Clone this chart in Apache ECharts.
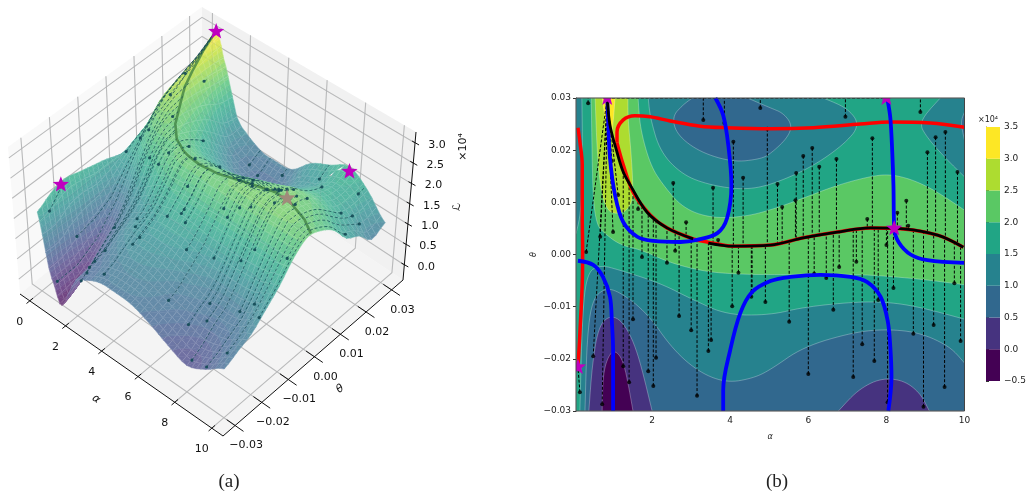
<!DOCTYPE html>
<html><head><meta charset="utf-8">
<style>html,body{margin:0;padding:0;background:#fff}#c{width:1030px;height:493px}</style>
<script src="https://cdn.jsdelivr.net/npm/echarts@6/dist/echarts.min.js"></script>
</head><body><div id="c"></div>
<script>
// ---------- loss surface values (x 10^4) ----------
const alphaGrid=[0.05,0.25,0.5,0.75,1,1.25,1.5,2,2.5,3,3.5,4,5,6,7,8,9,10];
const thetaGrid=[-0.03,-0.025,-0.02,-0.015,-0.01,-0.005,0,0.005,0.01,0.015,0.02,0.025,0.03];
const Lm30=[1.6,1.1,.33,-.02,-.38,-.3,0,.5,.65,.78,.85,.85,.82,.65,.42,.25,.45,.75];
const Lm25=[1.8,1.1,.35,-.03,-.3,-.15,.1,.55,.7,.85,.93,.98,.95,.78,.58,.42,.58,.9];
const Lm20=[1.9,1.3,.52,.05,-.1,.05,.35,.65,.9,1.05,1.15,1.2,1.1,.9,.8,.7,.78,1.05];
const Lm15=[1.8,1.35,.7,.25,.2,.38,.58,.88,1.12,1.27,1.32,1.37,1.34,1.18,1.0,.93,1.0,1.34];
const Lm10=[1.7,1.3,.85,.6,.55,.65,.85,1.1,1.25,1.4,1.52,1.6,1.6,1.48,1.42,1.42,1.48,1.65];
const Lm05=[1.6,1.4,1.15,1.03,1.03,1.15,1.3,1.45,1.65,1.8,1.88,1.93,1.93,1.95,1.95,1.95,1.98,2.05];
const L00=[1.45,1.55,1.55,1.6,1.7,1.8,1.9,2.0,2.15,2.25,2.3,2.3,2.33,2.38,2.4,2.42,2.38,2.3];
const L05=[1.35,1.7,1.9,2.05,2.2,2.3,2.33,2.3,2.25,2.2,2.15,2.15,2.2,2.3,2.4,2.45,2.35,2.2];
const L10=[1.3,1.75,2.05,2.48,2.65,2.6,2.5,2.25,2.05,1.85,1.75,1.73,1.8,2.02,2.2,2.35,2.2,1.95];
const L15=[1.3,1.75,2.1,2.65,2.8,2.7,2.5,2.1,1.75,1.45,1.32,1.27,1.28,1.55,1.85,2.02,1.9,1.5];
const L20=[1.25,1.7,2.15,2.8,2.9,2.75,2.45,1.85,1.35,1.08,.92,.85,.95,1.25,1.58,1.8,1.6,1.3];
const L25=[1.2,1.7,2.3,2.95,3.05,2.75,2.35,1.5,1.05,.85,.75,.7,.75,1.2,1.45,1.75,1.55,.95];
const L30=[1.2,1.6,2.3,3.2,3.2,2.7,2.3,1.4,1.15,1.0,.9,.9,.95,1.4,1.65,1.9,1.6,1.1];
const Lrows=[Lm30,Lm25,Lm20,Lm15,Lm10,Lm05,L00,L05,L10,L15,L20,L25,L30];

// ---------- filled contour regions in (alpha, theta) ----------
const levelColors=['#440154','#46337f','#31688e','#26828e','#21a585','#5ac864','#addc30','#fde725'];
const levelTicks=[-0.5,0,0.5,1,1.5,2,2.5,3,3.5];
const regionAll=[[.05,-.03],[10,-.03],[10,.03],[.05,.03]];
const regionBelow15=[[10,-.0124],[8.87,-.0101],[8.03,-.0091],[7.15,-.0091],[5.87,-.0101],[5.03,-.0116],[3.92,-.0116],[3.05,-.0087],[2.21,-.0055],[1.18,-.003],[.67,-.002],[.33,-.0035],[.21,-.012],[.15,-.03],[10,-.03]];
const regionBelow10=[[10,-.0208],[9.64,-.0177],[8.87,-.015],[8.03,-.0143],[7.15,-.0149],[5.87,-.0177],[5.03,-.0221],[4.59,-.0237],[3.92,-.0246],[3.23,-.0227],[2.54,-.0183],[1.87,-.0112],[1.18,-.0072],[.79,-.0064],[.46,-.0087],[.33,-.0164],[.28,-.03],[10,-.03]];
const regionBelow05a=[[.38,-.03],[.46,-.0216],[.62,-.0139],[.92,-.0116],[1.26,-.0129],[1.62,-.0183],[2,-.03]];
const regionBelow05b=[[6.77,-.03],[7.26,-.026],[7.85,-.0237],[8.44,-.0241],[8.87,-.0266],[9.1,-.03]];
const regionBelow00=[[.72,-.03],[.74,-.0227],[.92,-.0187],[1.13,-.0187],[1.31,-.0216],[1.51,-.03]];
const regionUpper15a=[[1.9,.03],[1.95,.0262],[2.21,.0196],[2.79,.0152],[3.49,.0133],[4.33,.0124],[5.03,.0133],[6.05,.0166],[6.9,.021],[7.33,.0248],[7,.0281],[6.38,.03]];
const regionUpper15b=[[9.38,.03],[8.82,.0254],[9.05,.0223],[9.56,.0181],[10,.0149],[10,.03]];
const regionUpper15c=[[.05,.03],[.2,.03],[.22,.02],[.18,.008],[.05,.004]];
const regionUpper10a=[[3.03,.03],[2.79,.0287],[2.51,.0264],[2.64,.0229],[3.23,.0196],[4.08,.0177],[4.77,.0183],[5.03,.0193],[5.46,.0223],[5.59,.0248],[5.36,.0271],[5.03,.0281],[4.44,.03]];
const regionUpper10b=[[10,.0273],[9.9,.0254],[10,.0219]];
const regionAbove20=[[.44,.03],[.46,.0196],[.49,.0101],[.59,.0057],[.74,.0043],[1.18,.0018],[1.72,.0009],[2.46,-.0016],[3.31,-.0032],[4,-.0037],[5.03,-.0039],[6.31,-.0037],[7.59,-.0039],[8.87,-.0047],[10,-.0058],[10,.0085],[9.31,.012],[8.69,.0143],[8.1,.0154],[7.59,.015],[6.74,.0133],[5.87,.0108],[5.03,.0085],[4.33,.0072],[3.49,.007],[2.79,.0089],[2.28,.0133],[1.95,.0172],[1.69,.0243],[1.64,.03]];
const regionAbove25=[[1.38,.03],[1.38,.0262],[1.46,.0196],[1.51,.0133],[1.49,.0101],[1.31,.0081],[1.05,.0078],[.85,.0085],[.69,.012],[.59,.0196],[.54,.03]];
const regionAbove30=[[.72,.03],[.82,.0248],[.92,.0216],[1,.0248],[1.05,.03]];

// ---------- critical curves ----------
const redLeft=[[.1,.0243],[.15,.0216],[.21,.0172],[.21,.007],[.22,.0009],[.21,-.0055],[.15,-.015],[.1,-.0216]];
const redUpper=[[10,.0244],[9.13,.0252],[8.1,.0254],[7.33,.025],[6.13,.0243],[5.03,.0241],[3.92,.0243],[3.23,.0246],[2.46,.0256],[1.95,.0264],[1.56,.0266],[1.26,.0258],[1.1,.0235],[1.1,.0214]];
const ridgeA=[[.85,.03],[.92,.0248],[1.1,.0196],[1.26,.0158],[1.44,.0133],[1.87,.0081],[2.38,.0051],[3.05,.003]];
const ridgeB=[[3.44,.0022],[4.08,.0016],[5.03,.0018],[5.87,.0032],[6.74,.0043],[7.59,.0051],[8.44,.0049],[9.31,.0037],[9.97,.0014]];
const redLower=[[1.1,.0214],[1.26,.0172],[1.51,.012],[1.95,.0076],[2.38,.0051],[3.05,.003],[3.41,.0024],[4.08,.0016],[5.03,.0018],[5.87,.0032],[6.74,.0043],[7.59,.0051],[8.44,.0049],[9.31,.0037],[9.97,.0014]];
const blueLoop=[[.85,.03],[.87,.0262],[.92,.0185],[1.05,.0114],[1.26,.0062],[1.62,.0034],[2.03,.0026],[2.72,.0024],[3.15,.0028],[3.67,.0041],[3.92,.007],[4.03,.0133],[3.95,.021],[3.82,.0267],[3.62,.03]];
const blueLowLeft=[[.1,-.0012],[.49,-.002],[.74,-.0043],[.92,-.0081],[.97,-.0131],[1,-.0183],[1,-.03]];
const blueLowMid=[[3.82,-.03],[3.82,-.026],[4,-.0183],[4.26,-.0112],[4.56,-.0072],[5.03,-.0051],[5.54,-.0043],[6.31,-.0039],[7.08,-.0043],[7.51,-.0053],[7.85,-.0081],[8.03,-.0126],[8.1,-.0177],[8.13,-.0235],[8.05,-.03]];
const blueRight=[[8.03,.0296],[8.1,.0262],[8.15,.0196],[8.18,.0133],[8.2,.0051],[8.31,.0024],[8.62,0],[9.05,-.0011],[10,-.0016]];
const edgeTrajectory=[[.85,.03],[8,.03]];

// ---------- critical points: alpha, theta, loss ----------
const maxima=[[.85,.03,3.27],[.1,-.0216,1.85],[8,.03,1.78]];
const saddle=[[8.2,.005,2.47]];

// ---------- trajectory start points ----------
const startsToTop=[[.36,.029],[3.31,.0258],[3.85,.0252],[4.77,.0281],[6.95,.0264],[8.87,.0273]];
const startsToPeak=[[1.13,.0114],[.97,.0179],[1,.0043],[.67,.0034],[.31,.0005],[.49,-.0195],[.72,-.0287]];
const startsToLowStar=[[.15,-.0264]];
const startsAbove=[[1.64,.0087],[4.08,.0216],[4.33,.0147],[2.54,.0137],[3.56,.0128],[4.95,.0241],[2.87,.0062],[3.69,.0028],[7.64,.0223],[9.26,.0225],[9.51,.0235],[9.05,.0196],[6.1,.0204],[5.87,.0189],[6.72,.0183],[6.28,.0168],[5.69,.0156],[9.82,.0158],[5.21,.0135],[5.33,.0091],[5.67,.0104],[8.51,.0103],[8.28,.008],[7.51,.0068],[8.56,.0055]];
const startsBelow=[[1.26,-.0214],[1.41,-.0245],[1.51,-.0124],[1.9,-.0224],[2.03,-.0252],[2.1,-.0198],[1.74,-.0005],[2.38,-.0016],[2.59,.0007],[2.69,-.0118],[3,-.0145],[3.15,-.0271],[3.44,-.0185],[3.51,-.0164],[4.05,-.0099],[4.21,-.0035],[4.56,-.0072],[4.54,-.0081],[4.9,-.0091],[5.51,-.0129],[6,-.0229],[6.15,-.0037],[6.46,-.0045],[6.64,-.0106],[6.79,-.0024],[7.15,-.0235],[7.23,-.0014],[7.38,-.0172],[7.69,-.0204],[7.79,-.0087],[8,.0018],[8.03,-.0283],[8.18,-.0064],[8.69,-.0152],[8.95,-.0292],[9.21,-.0135],[9.49,-.0254],[9.74,-.0055],[9.9,-.0166]];

// ---------- tick labels ----------
const alphaTicks3d=[0,2,4,6,8,10];
const thetaTicks3d=[-0.03,-0.02,-0.01,0,0.01,0.02,0.03];
const lossTicks3d=[0,0.5,1,1.5,2,2.5,3];
const alphaTicks2d=[2,4,6,8,10];

// ---------- helpers ----------
const minus=s=>String(s).replace('-','\u2212');
const FONT='"DejaVu Sans"';
function lookup(list,a){
  for(let i=0;i<list.length-1;i++){const p=list[i],q=list[i+1];
    if(a>=p[0]&&a<=q[0]) return p[1]+(q[1]-p[1])*(a-p[0])/((q[0]-p[0])||1);}
  return a<list[0][0]?list[0][1]:list[list.length-1][1];
}
const ridgeAll=redLower;
function idx(arr,v){let i=0;while(i<arr.length-2&&v>arr[i+1])i++;return i;}
function cr(p0,p1,p2,p3,t){return 0.5*((2*p1)+(-p0+p2)*t+(2*p0-5*p1+4*p2-p3)*t*t+(-p0+3*p1-3*p2+p3)*t*t*t);}
function patchL(i,j,u,v){
  const cl=(a,n)=>Math.max(0,Math.min(n-1,a));
  const col=[];
  for(let m=-1;m<=2;m++){const r=Lrows[cl(j+m,Lrows.length)];const n=r.length;
    col.push(cr(r[cl(i-1,n)],r[i],r[cl(i+1,n)],r[cl(i+2,n)],u));}
  return cr(col[0],col[1],col[2],col[3],v);
}
function surfaceL(a,t){
  const i=idx(alphaGrid,a),j=idx(thetaGrid,t);
  return patchL(i,j,(a-alphaGrid[i])/(alphaGrid[i+1]-alphaGrid[i]),(t-thetaGrid[j])/(thetaGrid[j+1]-thetaGrid[j]));
}

// ---------- 3D box projection ----------
const A0=-0.55,A1=10.6,T0=-0.0345,T1=0.0345,Z0=-0.37,Z1=3.27;
function quad(p){const [p0,p1,p2,p3]=p;
  const dx1=p1[0]-p2[0],dx2=p3[0]-p2[0],sx=p0[0]-p1[0]+p2[0]-p3[0];
  const dy1=p1[1]-p2[1],dy2=p3[1]-p2[1],sy=p0[1]-p1[1]+p2[1]-p3[1];
  const D=dx1*dy2-dx2*dy1,g=(sx*dy2-dx2*sy)/D,h=(dx1*sy-sx*dy1)/D;
  const a=p1[0]-p0[0]+g*p1[0],b=p3[0]-p0[0]+h*p3[0],c=p0[0],d=p1[1]-p0[1]+g*p1[1],e=p3[1]-p0[1]+h*p3[1],f=p0[1];
  return (u,v)=>{const w=g*u+h*v+1;return [(a*u+b*v+c)/w,(d*u+e*v+f)/w];};
}
const floorQ=quad([[20,294],[223,436],[403,280],[202,146]]);
const topQ=quad([[8,147],[224,276],[416,132],[202,7]]);
function P(a,t,z){const u=(a-A0)/(A1-A0),v=(t-T0)/(T1-T0),w=(z-Z0)/(Z1-Z0);
  const f=floorQ(u,v),q=topQ(u,v);return [f[0]+(q[0]-f[0])*w,f[1]+(q[1]-f[1])*w];}

const vir=['#440154','#482475','#414487','#355f8d','#2a788e','#21918c','#22a884','#44bf70','#7ad151','#bddf26','#fde725'].map(h=>[parseInt(h.slice(1,3),16),parseInt(h.slice(3,5),16),parseInt(h.slice(5,7),16)]);
function surfColor(L){let t=(L+0.4)/3.7;t=Math.max(0,Math.min(.9999,t))*10;const i=Math.floor(t),f=t-i;
  const op=0.74;const c=[0,1,2].map(k=>Math.round((vir[i][k]*(1-f)+vir[i+1][k]*f)*op+244*(1-op)));
  return 'rgb('+c.join(',')+')';}
function clipPoly(poly,level,keepAbove){const out=[];
  for(let i=0;i<poly.length;i++){const p=poly[i],q=poly[(i+1)%poly.length];
    const pin=keepAbove?p[2]>=level:p[2]<=level,qin=keepAbove?q[2]>=level:q[2]<=level;
    if(pin)out.push(p);
    if(pin!==qin){const s=(level-p[2])/(q[2]-p[2]);out.push([p[0]+(q[0]-p[0])*s,p[1]+(q[1]-p[1])*s,level]);}
  }return out;}

const shapes=[];
const poly=(pts,fill,stroke,lw)=>shapes.push({type:'polygon',shape:{points:pts},style:{fill:fill,stroke:stroke||null,lineWidth:lw||0}});
const line=(pts,stroke,lw,dash,op)=>shapes.push({type:'polyline',shape:{points:pts},style:{fill:null,stroke:stroke,lineWidth:lw,lineDash:dash||null,opacity:op==null?1:op}});
const label=(txt,x,y,size,rot,fontFam,italic)=>shapes.push({type:'text',x:x,y:y,rotation:(rot||0)*Math.PI/180,style:{text:txt,x:0,y:0,fill:'#111',font:(italic?'italic ':'')+size+'px '+(fontFam||FONT),textAlign:'center',textVerticalAlign:'middle'}});
function starPts(cx,cy,r){const pts=[];for(let i=0;i<10;i++){const a=-Math.PI/2+i*Math.PI/5,R=i%2?r*.42:r;pts.push([cx+R*Math.cos(a),cy+R*Math.sin(a)]);}return pts;}

poly([P(A0,T0,Z0),P(A0,T1,Z0),P(A0,T1,Z1),P(A0,T0,Z1)],'#f9f9f9');
poly([P(A0,T1,Z0),P(A1,T1,Z0),P(A1,T1,Z1),P(A0,T1,Z1)],'#f1f1f1');
poly([P(A0,T0,Z0),P(A1,T0,Z0),P(A1,T1,Z0),P(A0,T1,Z0)],'#f4f4f4');
const GC='#c2c2c2';
function gridLines(col,lw,op){
  alphaTicks3d.forEach(a=>{line([P(a,T0,Z0),P(a,T1,Z0),P(a,T1,Z1)],col,lw,null,op);});
  thetaTicks3d.forEach(t=>{line([P(A1,t,Z0),P(A0,t,Z0),P(A0,t,Z1)],col,lw,null,op);});
  lossTicks3d.forEach(z=>{line([P(A0,T0,z),P(A0,T1,z),P(A1,T1,z)],col,lw,null,op);});
}
gridLines(GC,1.1,1);

const STEP=0.125,NT=3;
for(let i=0;i<alphaGrid.length-1;i++){
  const da=alphaGrid[i+1]-alphaGrid[i],NA=Math.max(2,Math.ceil(da/0.25));
  for(let si=0;si<NA;si++){
    for(let j=thetaGrid.length-2;j>=0;j--){
      const dt=thetaGrid[j+1]-thetaGrid[j];
      for(let sj=NT-1;sj>=0;sj--){
        const v=(uu,vv)=>{const L=patchL(i,j,uu/NA,vv/NT),p=P(alphaGrid[i]+da*uu/NA,thetaGrid[j]+dt*vv/NT,L);return [p[0],p[1],L];};
        const a=v(si,sj),b=v(si+1,sj),c=v(si+1,sj+1),d=v(si,sj+1);
        [[a,b,c],[a,c,d]].forEach(tri=>{
          const lo=Math.min(tri[0][2],tri[1][2],tri[2][2]),hi=Math.max(tri[0][2],tri[1][2],tri[2][2]);
          for(let k=Math.floor(lo/STEP);k*STEP<hi;k++){
            let pg=clipPoly(tri,k*STEP,true);if(pg.length<3)continue;
            pg=clipPoly(pg,(k+1)*STEP,false);if(pg.length<3)continue;
            const col=surfColor((k+.5)*STEP);
            poly(pg.map(q=>[q[0],q[1]]),col,col,0.5);
          }
        });
        line([[a[0],a[1]],[b[0],b[1]],[c[0],c[1]],[d[0],d[1]],[a[0],a[1]]],'#ffffff',0.4,null,.28);
      }
    }
  }
}
gridLines('#5f6f70',0.8,0.12);

[ridgeA,ridgeB].forEach(cv=>line(cv.map(p=>P(p[0],p[1],surfaceL(p[0],p[1]))),'#3c7d3f',2.6,null,.75));
line([ridgeA[ridgeA.length-1],ridgeB[0]].map(p=>P(p[0],p[1],surfaceL(p[0],p[1]))),'#3c7d3f',2.6,null,.75);

const TC='#134a55';
function traj3d(s,e){const pts=[];const n=8;for(let k=0;k<=n;k++){const a=s[0]+(e[0]-s[0])*k/n,t=s[1]+(e[1]-s[1])*k/n;pts.push(P(a,t,surfaceL(a,t)));}
  line(pts,TC,0.9,[3,2],.8);const d=P(s[0],s[1],surfaceL(s[0],s[1]));
  shapes.push({type:'circle',shape:{cx:d[0],cy:d[1],r:1.6},style:{fill:TC,opacity:.9}});}
startsToTop.forEach(s=>traj3d(s,[s[0],.03]));
startsToPeak.forEach(s=>traj3d(s,maxima[0]));
startsToLowStar.forEach(s=>traj3d(s,maxima[1]));
startsAbove.concat(startsBelow).forEach(s=>traj3d(s,[s[0],lookup(ridgeAll,s[0])]));

maxima.forEach(m=>{const p=P(m[0],m[1],m[2]);poly(starPts(p[0],p[1],8.5),'#bf00bf');});
saddle.forEach(m=>{const p=P(m[0],m[1],m[2]);poly(starPts(p[0],p[1],9),'#a08b7a');});

line([P(A0,T0,Z0),P(A1,T0,Z0),P(A1,T1,Z0),P(A1,T1,Z1)],'#111',1);
alphaTicks3d.forEach(a=>{line([P(a,T0+0.0012,Z0),P(a,T0-0.0012,Z0)],'#111',1);
  const b=P(a,T0,Z0);label(String(a),b[0]-10,b[1]+21,11);});
thetaTicks3d.forEach(t=>{line([P(A1-.45,t,Z0),P(A1+.45,t,Z0)],'#111',1);
  const b=P(A1,t,Z0);label(minus(t.toFixed(2)),b[0]+11,b[1]+20,11);});
lossTicks3d.forEach(z=>{const b=P(A1,T1,z);line([[b[0]-3,b[1]-2],[b[0]+4,b[1]+2]],'#111',1);
  label(z.toFixed(1),b[0]+22,b[1]+2,11);});
label('\u03b1',96,399,11,-35,FONT,true);
label('\u03b8',340,389,11,35,FONT,true);
label('\u2112',457,207,11,90);
label('\u00d710\u2074',463,147,11,90);

function rounded(pts,onEdge){let cur=pts;
  for(let it=0;it<3;it++){const out=[];
    cur.forEach((p,i)=>{if(onEdge(p)){out.push(p);return;}
      const a=cur[(i-1+cur.length)%cur.length],b=cur[(i+1)%cur.length];
      out.push([.75*p[0]+.25*a[0],.75*p[1]+.25*a[1]],[.75*p[0]+.25*b[0],.75*p[1]+.25*b[1]]);});
    cur=out;}
  return cur;}
const isEdge=p=>p[0]<=.0501||p[0]>=9.9999||Math.abs(Math.abs(p[1])-.03)<1e-7;

// ---------- option ----------
const regions=[[regionAll,levelColors[4]],[regionBelow15,levelColors[3]],[regionBelow10,levelColors[2]],[regionBelow05a,levelColors[1]],[regionBelow05b,levelColors[1]],[regionBelow00,levelColors[0]],[regionUpper15a,levelColors[3]],[regionUpper15b,levelColors[3]],[regionUpper15c,levelColors[3]],[regionUpper10a,levelColors[2]],[regionUpper10b,levelColors[2]],[regionAbove20,levelColors[5]],[regionAbove25,levelColors[6]],[regionAbove30,levelColors[7]]];
const segs=[[edgeTrajectory[0][0],edgeTrajectory[0][1],edgeTrajectory[1][0],edgeTrajectory[1][1]]];
startsToTop.forEach(s=>segs.push([s[0],s[1],s[0],.03]));
startsToPeak.forEach(s=>segs.push([s[0],s[1],maxima[0][0],.03]));
startsToLowStar.forEach(s=>segs.push([s[0],s[1],maxima[1][0],maxima[1][1]]));
startsAbove.concat(startsBelow).forEach(s=>segs.push([s[0],s[1],s[0],lookup(ridgeAll,s[0])]));
const allStarts=startsToTop.concat(startsToPeak,startsToLowStar,startsAbove,startsBelow);
const curve=(d,c,w,z)=>({type:'line',xAxisIndex:0,yAxisIndex:0,data:d,showSymbol:false,smooth:0.35,lineStyle:{color:c,width:w},z:z,silent:true,animation:false});
const option={
  animation:false,backgroundColor:'#fff',
  grid:[{left:576,top:98,width:388.5,height:313,containLabel:false},{left:986,top:127,width:14,height:254}],
  xAxis:[
   {type:'value',gridIndex:0,min:0.05,max:10,splitLine:{show:false},
    axisLine:{show:true,lineStyle:{color:'#444',width:1}},
    axisTick:{show:true,length:3,lineStyle:{color:'#333'},customValues:alphaTicks2d},
    axisLabel:{fontSize:9,color:'#222',fontFamily:'DejaVu Sans',margin:5,customValues:alphaTicks2d,formatter:v=>String(v)},
    name:'\u03b1',nameLocation:'middle',nameGap:22,nameTextStyle:{fontSize:8,fontStyle:'italic',color:'#222',fontFamily:'DejaVu Sans'}},
   {type:'value',gridIndex:1,min:0,max:1,show:false}],
  yAxis:[
   {type:'value',gridIndex:0,min:-0.03,max:0.03,interval:0.01,splitLine:{show:false},
    axisLine:{show:true,lineStyle:{color:'#444',width:1}},axisTick:{show:true,length:3,lineStyle:{color:'#333'}},
    axisLabel:{fontSize:9,color:'#222',fontFamily:'DejaVu Sans',margin:5,formatter:v=>minus(v.toFixed(2))},
    name:'\u03b8',nameLocation:'middle',nameGap:38,nameTextStyle:{fontSize:8,fontStyle:'italic',color:'#222',fontFamily:'DejaVu Sans'}},
   {type:'value',gridIndex:1,min:-0.5,max:3.5,interval:0.5,position:'right',splitLine:{show:false},
    axisLine:{show:true,lineStyle:{color:'#333',width:.8}},axisTick:{show:true,length:3,lineStyle:{color:'#333'}},
    axisLabel:{fontSize:9,color:'#222',fontFamily:'DejaVu Sans',margin:4,formatter:v=>minus(v.toFixed(1))}}],
  graphic:[
   {type:'text',x:229,y:482,style:{text:'(a)',font:'19px "Liberation Serif"',fill:'#222',textAlign:'center',textVerticalAlign:'middle'}},
   {type:'text',x:777,y:482,style:{text:'(b)',font:'19px "Liberation Serif"',fill:'#222',textAlign:'center',textVerticalAlign:'middle'}},
   {type:'text',x:988,y:120,style:{text:'\u00d710\u2074',font:'8px "DejaVu Sans"',fill:'#222',textAlign:'center',textVerticalAlign:'middle'}}],
  series:[
   {type:'custom',coordinateSystem:'none',silent:true,z:1,progressive:0,progressiveThreshold:1e9,data:shapes.map((s,i)=>[i]),renderItem:(p)=>shapes[p.dataIndex]},
   {type:'custom',xAxisIndex:0,yAxisIndex:0,silent:true,z:2,clip:true,data:regions.map((r,i)=>[i]),
    renderItem:(p,api)=>{const r=regions[p.dataIndex];return {type:'polygon',shape:{points:rounded(r[0],isEdge).map(q=>api.coord(q))},style:{fill:r[1],stroke:'rgba(255,255,255,.4)',lineWidth:.7}};}},
   {type:'custom',xAxisIndex:0,yAxisIndex:0,silent:true,z:3,clip:true,data:segs,encode:{x:[0,2],y:[1,3]},
    renderItem:(p,api)=>{const s=segs[p.dataIndex];return {type:'line',shape:{x1:api.coord([s[0],s[1]])[0],y1:api.coord([s[0],s[1]])[1],x2:api.coord([s[2],s[3]])[0],y2:api.coord([s[2],s[3]])[1]},style:{stroke:'#000',lineWidth:1,lineDash:[3,1.8]}};}},
   {type:'scatter',xAxisIndex:0,yAxisIndex:0,silent:true,z:4,symbolSize:4,itemStyle:{color:'#000'},data:allStarts},
   curve(redLeft,'#f00',3.5,5),curve(redUpper,'#f00',3.5,5),curve(redLower,'#f00',3.5,5),
   curve(blueLoop,'#00f',3.8,6),curve(blueLowLeft,'#00f',3.8,6),curve(blueLowMid,'#00f',3.8,6),curve(blueRight,'#00f',3.8,6),
   curve(ridgeA,'#000',2.8,7),curve(ridgeB,'#000',2.8,7),
   {type:'custom',xAxisIndex:0,yAxisIndex:0,silent:true,z:8,clip:true,data:maxima.concat(saddle),
    renderItem:(p,api)=>{const d=maxima.concat(saddle)[p.dataIndex],c=api.coord([d[0],d[1]]);return {type:'polygon',shape:{points:starPts(c[0],c[1],8.5)},style:{fill:'#bf00bf'}};}},
   {type:'custom',xAxisIndex:0,yAxisIndex:0,silent:true,z:9,clip:false,data:[0],
    renderItem:(p,api)=>{const a=api.coord(regionAll[3]),b=api.coord(regionAll[1]);return {type:'rect',shape:{x:a[0],y:a[1],width:b[0]-a[0],height:b[1]-a[1]},style:{fill:null,stroke:'#444',lineWidth:1}};}},
   {type:'custom',xAxisIndex:1,yAxisIndex:1,silent:true,z:2,data:levelColors.map((c,i)=>[i]),
    renderItem:(p,api)=>{const i=p.dataIndex,a=api.coord([0,levelTicks[i]]),b=api.coord([1,levelTicks[i+1]]);return {type:'rect',shape:{x:a[0],y:b[1],width:b[0]-a[0],height:a[1]-b[1]},style:{fill:levelColors[i]}};}}
  ]
};
const chart=echarts.init(document.getElementById('c'),null,{renderer:'canvas'});
chart.setOption(option);
</script></body></html>
